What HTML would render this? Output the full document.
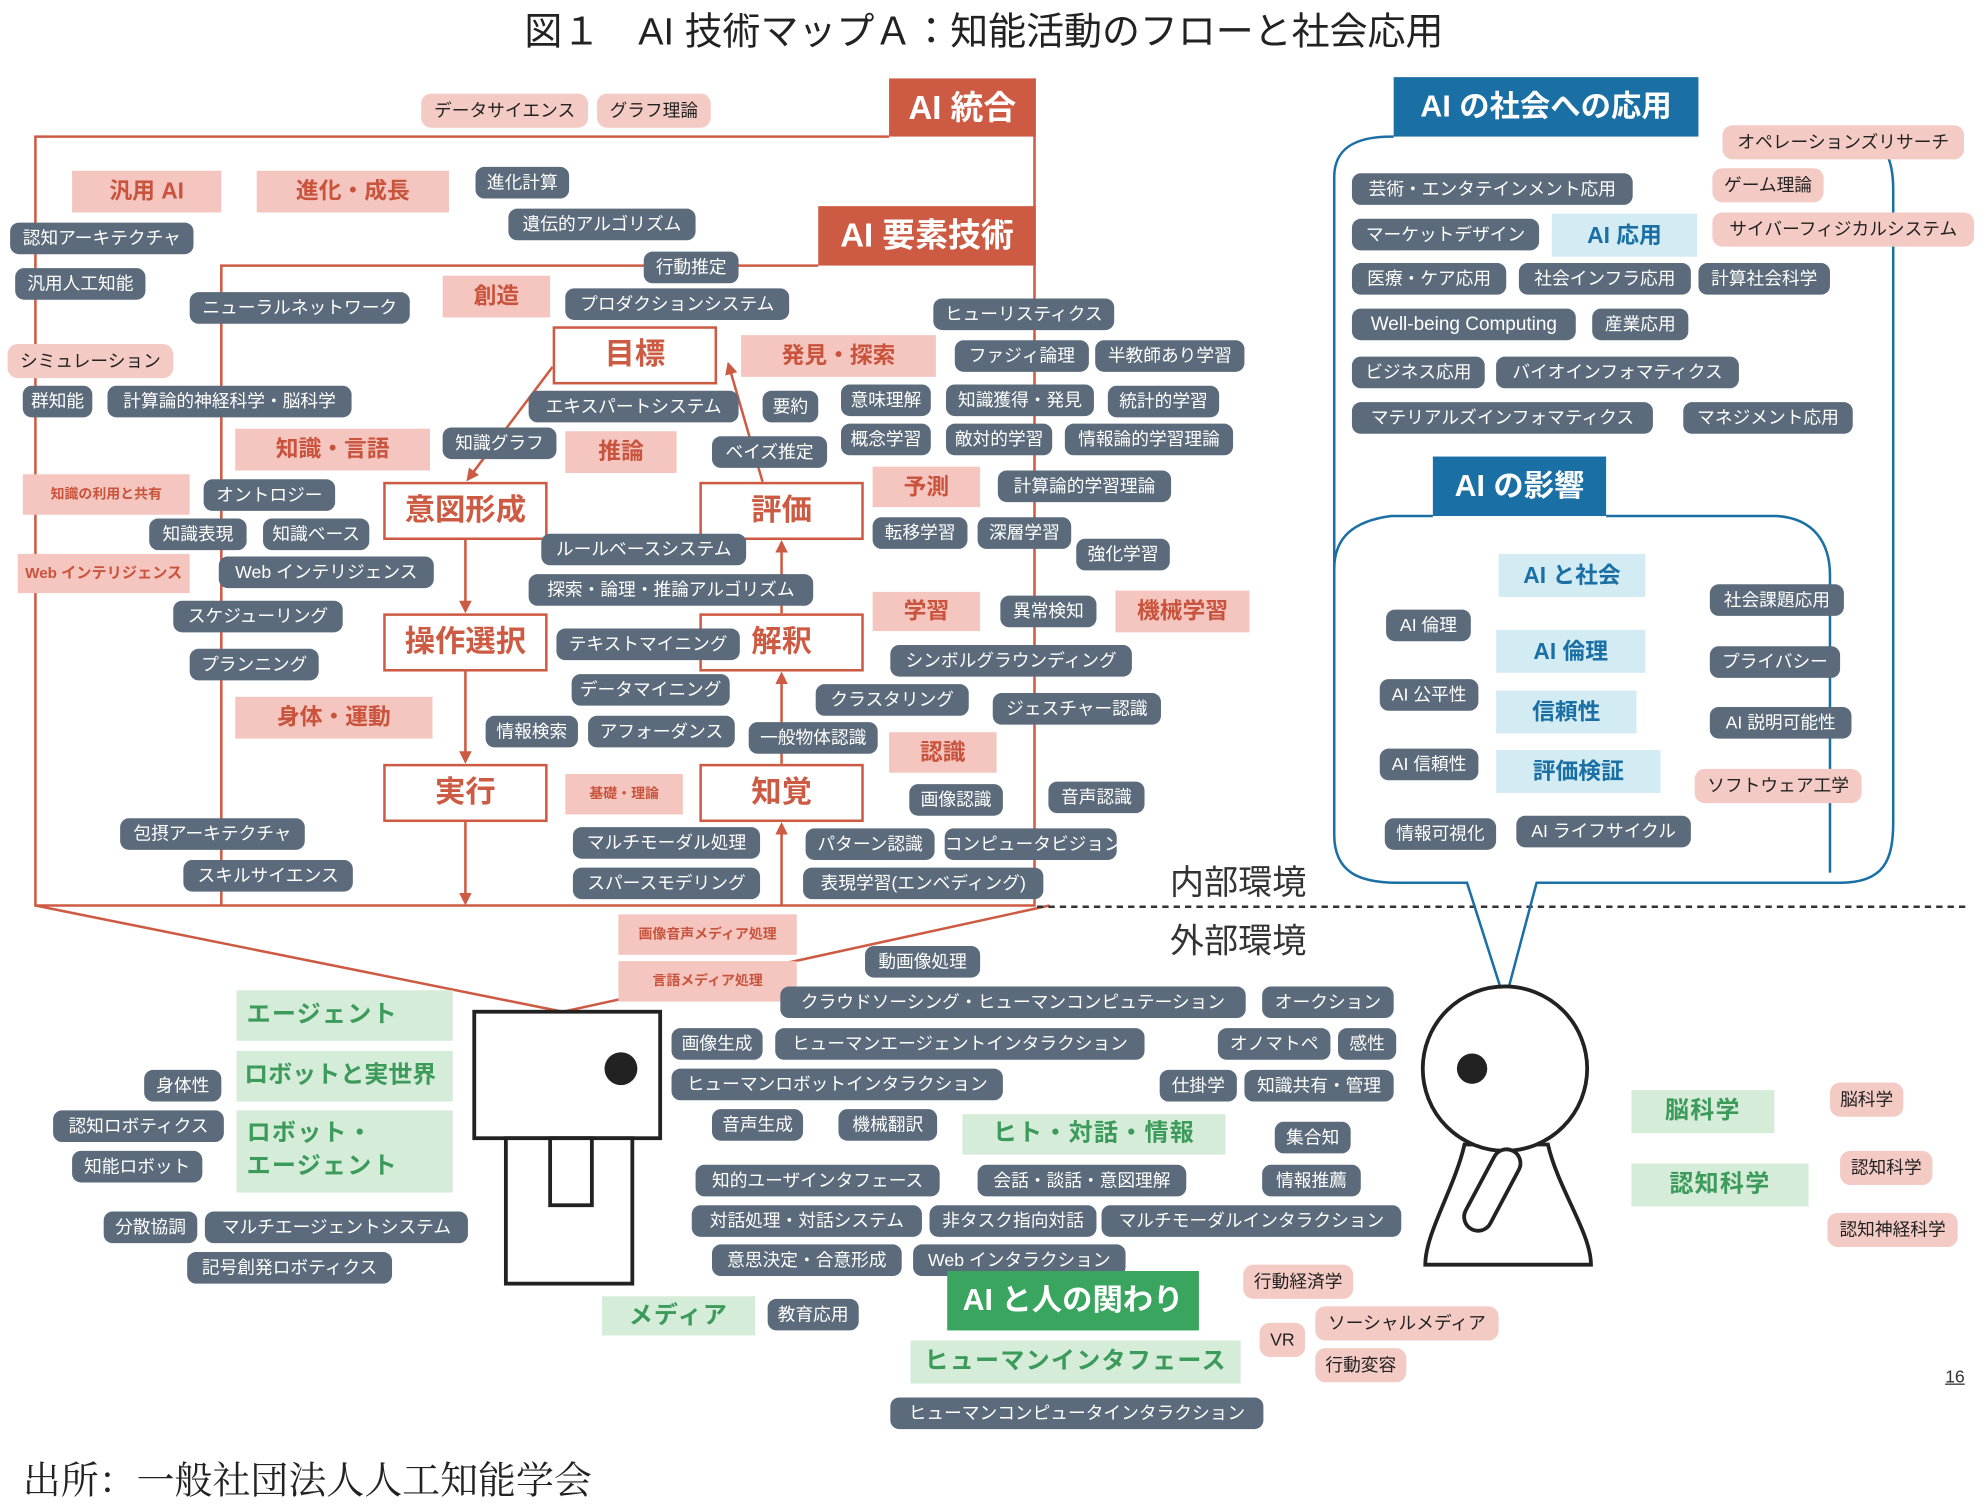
<!DOCTYPE html>
<html><head><meta charset="utf-8">
<style>
html,body{margin:0;padding:0;background:#fff;}
body{width:1983px;height:1510px;overflow:hidden;}
#w{position:absolute;left:0;top:0;width:1568px;height:1194px;transform:scale(1.26467);transform-origin:0 0;font-family:"Liberation Sans","Noto Sans CJK JP",sans-serif;}
#w div{position:absolute;white-space:nowrap;box-sizing:border-box;}
.g{background:#5b6b7b;color:#fff;font-size:14px;height:25px;line-height:25px;border-radius:7px;text-align:center;}
.p{background:#f4cbc4;color:#222;font-size:14px;height:27px;line-height:27px;border-radius:8px;text-align:center;}
.ph{background:#f4c6bf;color:#c9533c;font-weight:bold;font-size:18px;text-align:center;}
.sm{background:#f4c6bf;color:#c9533c;font-weight:bold;font-size:11px;text-align:center;}
.r{background:#cd5b43;color:#fff;font-weight:bold;font-size:26px;text-align:center;}
.rb{border:2px solid #cd5b43;color:#cd5b43;font-weight:bold;font-size:24px;text-align:center;background:#fff;}
.bh{background:#1a6fa5;color:#fff;font-weight:bold;font-size:24px;text-align:center;}
.lb{background:#d3ebf3;color:#1a6fa5;font-weight:bold;font-size:18px;text-align:center;}
.gl{background:#d5ecd9;color:#3c9a5b;font-weight:bold;font-size:19px;text-align:center;letter-spacing:1px;}
</style></head><body><div id="w">
<svg width="1568" height="1194" style="position:absolute;left:0;top:0">
<defs><marker id="a" markerWidth="10" markerHeight="10" refX="8" refY="5" orient="auto" markerUnits="userSpaceOnUse"><path d="M0,0 L10,5 L0,10 z" fill="#cd5b43"/></marker></defs>
<g stroke="#cd5b43" stroke-width="2" fill="none">
<polyline points="703,108 28,108 28,716 818,716 818,62"/>
<polyline points="647,210 175,210 175,716"/>
<line x1="28" y1="716" x2="445" y2="800"/>
<line x1="830" y1="716" x2="445" y2="800"/>
<line x1="437" y1="290" x2="370" y2="379" marker-end="url(#a)"/>
<line x1="368" y1="427" x2="368" y2="483" marker-end="url(#a)"/>
<line x1="368" y1="531" x2="368" y2="602" marker-end="url(#a)"/>
<line x1="368" y1="650" x2="368" y2="714" marker-end="url(#a)"/>
<line x1="618" y1="716" x2="618" y2="652" marker-end="url(#a)"/>
<line x1="618" y1="604" x2="618" y2="533" marker-end="url(#a)"/>
<line x1="618" y1="485" x2="618" y2="429" marker-end="url(#a)"/>
<line x1="603" y1="381" x2="576" y2="288" marker-end="url(#a)"/>
</g>
<line x1="820" y1="717" x2="1556" y2="717" stroke="#333" stroke-width="2" stroke-dasharray="5,4"/>
<g stroke="#1a6fa5" stroke-width="2" fill="none">
<path d="M1102,108 L1100,108 C1075,108 1055,115 1055,140 L1055,660 C1055,690 1075,698 1105,698 L1160,698 L1190,792 L1215,698 L1455,698 C1490,698 1497,680 1497,650 L1497,150 C1497,125 1490,110 1470,108"/>
<path d="M1133,408 L1100,408 C1070,412 1055,425 1055,450"/>
<path d="M1270,408 L1405,408 C1435,410 1447,430 1447,455 L1447,690"/>
</g>
<g stroke="#222" stroke-width="3" fill="#fff">
<rect x="375" y="800" width="147" height="100"/>
<rect x="400" y="900" width="100" height="115"/>
<rect x="435" y="900" width="33" height="53"/>
<path d="M1158,905 C1150,940 1127,975 1127,1000 L1258,1000 C1258,975 1232,940 1224,905 Z"/>
<circle cx="1190" cy="845" r="65"/>
<rect x="1145" y="930" width="70" height="22" rx="11" transform="rotate(-62 1180 941)"/>
</g>
<circle cx="491" cy="845" r="13" fill="#222"/>
<circle cx="1164" cy="845" r="12" fill="#222"/>
</svg>

<div style="left:0;width:1556px;top:0px;text-align:center;font-size:30px;color:#222;">図１　AI 技術マップＡ：知能活動のフローと社会応用</div>

<div class="r" style="left:703px;top:62px;width:116px;height:46px;line-height:46px;">AI 統合</div>
<div class="r" style="left:647px;top:163px;width:172px;height:47px;line-height:47px;">AI 要素技術</div>

<div class="rb" style="left:437px;top:258px;width:130px;height:46px;line-height:42px;">目標</div>
<div class="rb" style="left:303px;top:381px;width:130px;height:46px;line-height:42px;">意図形成</div>
<div class="rb" style="left:553px;top:381px;width:130px;height:46px;line-height:42px;">評価</div>
<div class="rb" style="left:303px;top:485px;width:130px;height:46px;line-height:42px;">操作選択</div>
<div class="rb" style="left:553px;top:485px;width:130px;height:46px;line-height:42px;">解釈</div>
<div class="rb" style="left:303px;top:604px;width:130px;height:46px;line-height:42px;">実行</div>
<div class="rb" style="left:553px;top:604px;width:130px;height:46px;line-height:42px;">知覚</div>

<div class="ph" style="left:57px;top:135px;width:118px;height:33px;line-height:33px;">汎用 AI</div>
<div class="ph" style="left:203px;top:135px;width:152px;height:33px;line-height:33px;">進化・成長</div>
<div class="ph" style="left:350px;top:218px;width:85px;height:33px;line-height:33px;">創造</div>
<div class="ph" style="left:586px;top:265px;width:154px;height:33px;line-height:33px;">発見・探索</div>
<div class="ph" style="left:186px;top:339px;width:154px;height:33px;line-height:33px;">知識・言語</div>
<div class="ph" style="left:447px;top:341px;width:88px;height:33px;line-height:33px;">推論</div>
<div class="ph" style="left:690px;top:369px;width:85px;height:32px;line-height:32px;">予測</div>
<div class="ph" style="left:690px;top:468px;width:85px;height:31px;line-height:31px;">学習</div>
<div class="ph" style="left:882px;top:467px;width:106px;height:33px;line-height:33px;">機械学習</div>
<div class="ph" style="left:186px;top:551px;width:156px;height:33px;line-height:33px;">身体・運動</div>
<div class="ph" style="left:703px;top:579px;width:85px;height:32px;line-height:32px;">認識</div>
<div class="sm" style="left:447px;top:612px;width:93px;height:32px;line-height:32px;">基礎・理論</div>
<div class="sm" style="left:18px;top:375px;width:132px;height:32px;line-height:32px;">知識の利用と共有</div>
<div class="sm" style="left:14px;top:438px;width:136px;height:31px;line-height:31px;font-size:12px;">Web インテリジェンス</div>
<div class="sm" style="left:489px;top:723px;width:141px;height:32px;line-height:32px;">画像音声メディア処理</div>
<div class="sm" style="left:489px;top:760px;width:141px;height:32px;line-height:32px;">言語メディア処理</div>

<div class="p" style="left:333px;top:74px;width:132px;">データサイエンス</div>
<div class="p" style="left:472px;top:74px;width:90px;">グラフ理論</div>
<div class="p" style="left:6px;top:272px;width:131px;">シミュレーション</div>
<div class="p" style="left:1362px;top:99px;width:191px;">オペレーションズリサーチ</div>
<div class="p" style="left:1354px;top:133px;width:88px;">ゲーム理論</div>
<div class="p" style="left:1354px;top:168px;width:207px;">サイバーフィジカルシステム</div>
<div class="p" style="left:1340px;top:608px;width:132px;">ソフトウェア工学</div>
<div class="p" style="left:1447px;top:856px;width:58px;">脳科学</div>
<div class="p" style="left:1455px;top:910px;width:73px;">認知科学</div>
<div class="p" style="left:1445px;top:959px;width:103px;">認知神経科学</div>
<div class="p" style="left:983px;top:1000px;width:87px;">行動経済学</div>
<div class="p" style="left:1040px;top:1033px;width:145px;">ソーシャルメディア</div>
<div class="p" style="left:1040px;top:1066px;width:72px;">行動変容</div>
<div class="p" style="left:996px;top:1046px;width:36px;">VR</div>

<div class="g" style="left:376px;top:132px;width:74px;">進化計算</div>
<div class="g" style="left:402px;top:165px;width:148px;">遺伝的アルゴリズム</div>
<div class="g" style="left:509px;top:199px;width:75px;">行動推定</div>
<div class="g" style="left:8px;top:176px;width:145px;">認知アーキテクチャ</div>
<div class="g" style="left:12px;top:212px;width:103px;">汎用人工知能</div>
<div class="g" style="left:150px;top:231px;width:174px;">ニューラルネットワーク</div>
<div class="g" style="left:447px;top:228px;width:177px;">プロダクションシステム</div>
<div class="g" style="left:738px;top:236px;width:143px;">ヒューリスティクス</div>
<div class="g" style="left:755px;top:269px;width:106px;">ファジィ論理</div>
<div class="g" style="left:866px;top:269px;width:118px;">半教師あり学習</div>
<div class="g" style="left:18px;top:305px;width:55px;">群知能</div>
<div class="g" style="left:85px;top:305px;width:193px;">計算論的神経科学・脳科学</div>
<div class="g" style="left:418px;top:309px;width:166px;">エキスパートシステム</div>
<div class="g" style="left:603px;top:309px;width:44px;">要約</div>
<div class="g" style="left:665px;top:304px;width:71px;">意味理解</div>
<div class="g" style="left:748px;top:304px;width:117px;">知識獲得・発見</div>
<div class="g" style="left:876px;top:305px;width:88px;">統計的学習</div>
<div class="g" style="left:350px;top:338px;width:90px;">知識グラフ</div>
<div class="g" style="left:563px;top:345px;width:91px;">ベイズ推定</div>
<div class="g" style="left:665px;top:335px;width:71px;">概念学習</div>
<div class="g" style="left:748px;top:335px;width:84px;">敵対的学習</div>
<div class="g" style="left:842px;top:335px;width:133px;">情報論的学習理論</div>
<div class="g" style="left:161px;top:379px;width:104px;">オントロジー</div>
<div class="g" style="left:789px;top:372px;width:137px;">計算論的学習理論</div>
<div class="g" style="left:118px;top:410px;width:77px;">知識表現</div>
<div class="g" style="left:208px;top:410px;width:84px;">知識ベース</div>
<div class="g" style="left:690px;top:409px;width:75px;">転移学習</div>
<div class="g" style="left:773px;top:409px;width:74px;">深層学習</div>
<div class="g" style="left:851px;top:426px;width:74px;">強化学習</div>
<div class="g" style="left:428px;top:422px;width:162px;">ルールベースシステム</div>
<div class="g" style="left:173px;top:440px;width:170px;">Web インテリジェンス</div>
<div class="g" style="left:418px;top:454px;width:225px;">探索・論理・推論アルゴリズム</div>
<div class="g" style="left:137px;top:475px;width:134px;">スケジューリング</div>
<div class="g" style="left:791px;top:471px;width:76px;">異常検知</div>
<div class="g" style="left:440px;top:497px;width:145px;">テキストマイニング</div>
<div class="g" style="left:704px;top:510px;width:191px;">シンボルグラウンディング</div>
<div class="g" style="left:150px;top:513px;width:102px;">プランニング</div>
<div class="g" style="left:452px;top:533px;width:125px;">データマイニング</div>
<div class="g" style="left:645px;top:541px;width:121px;">クラスタリング</div>
<div class="g" style="left:785px;top:548px;width:133px;">ジェスチャー認識</div>
<div class="g" style="left:384px;top:566px;width:73px;">情報検索</div>
<div class="g" style="left:465px;top:566px;width:116px;">アフォーダンス</div>
<div class="g" style="left:592px;top:571px;width:102px;">一般物体認識</div>
<div class="g" style="left:719px;top:620px;width:74px;">画像認識</div>
<div class="g" style="left:829px;top:618px;width:76px;">音声認識</div>
<div class="g" style="left:95px;top:647px;width:146px;">包摂アーキテクチャ</div>
<div class="g" style="left:453px;top:654px;width:148px;">マルチモーダル処理</div>
<div class="g" style="left:637px;top:655px;width:102px;">パターン認識</div>
<div class="g" style="left:747px;top:655px;width:136px;">コンピュータビジョン</div>
<div class="g" style="left:145px;top:680px;width:134px;">スキルサイエンス</div>
<div class="g" style="left:453px;top:686px;width:148px;">スパースモデリング</div>
<div class="g" style="left:635px;top:686px;width:190px;">表現学習(エンベディング)</div>
<div class="g" style="left:684px;top:748px;width:91px;">動画像処理</div>
<div class="g" style="left:617px;top:780px;width:368px;">クラウドソーシング・ヒューマンコンピュテーション</div>
<div class="g" style="left:998px;top:780px;width:104px;">オークション</div>
<div class="g" style="left:531px;top:813px;width:72px;">画像生成</div>
<div class="g" style="left:613px;top:813px;width:292px;">ヒューマンエージェントインタラクション</div>
<div class="g" style="left:963px;top:813px;width:89px;">オノマトペ</div>
<div class="g" style="left:1058px;top:813px;width:46px;">感性</div>
<div class="g" style="left:531px;top:845px;width:262px;">ヒューマンロボットインタラクション</div>
<div class="g" style="left:917px;top:846px;width:61px;">仕掛学</div>
<div class="g" style="left:984px;top:846px;width:118px;">知識共有・管理</div>
<div class="g" style="left:114px;top:846px;width:61px;">身体性</div>
<div class="g" style="left:42px;top:878px;width:135px;">認知ロボティクス</div>
<div class="g" style="left:57px;top:910px;width:103px;">知能ロボット</div>
<div class="g" style="left:563px;top:877px;width:72px;">音声生成</div>
<div class="g" style="left:663px;top:877px;width:78px;">機械翻訳</div>
<div class="g" style="left:1008px;top:887px;width:60px;">集合知</div>
<div class="g" style="left:550px;top:921px;width:193px;">知的ユーザインタフェース</div>
<div class="g" style="left:773px;top:921px;width:165px;">会話・談話・意図理解</div>
<div class="g" style="left:998px;top:921px;width:78px;">情報推薦</div>
<div class="g" style="left:82px;top:958px;width:74px;">分散協調</div>
<div class="g" style="left:162px;top:958px;width:208px;">マルチエージェントシステム</div>
<div class="g" style="left:547px;top:953px;width:182px;">対話処理・対話システム</div>
<div class="g" style="left:735px;top:953px;width:132px;">非タスク指向対話</div>
<div class="g" style="left:871px;top:953px;width:237px;">マルチモーダルインタラクション</div>
<div class="g" style="left:148px;top:990px;width:162px;">記号創発ロボティクス</div>
<div class="g" style="left:563px;top:984px;width:150px;">意思決定・合意形成</div>
<div class="g" style="left:722px;top:984px;width:168px;">Web インタラクション</div>
<div class="g" style="left:607px;top:1027px;width:72px;">教育応用</div>
<div class="g" style="left:704px;top:1105px;width:295px;">ヒューマンコンピュータインタラクション</div>

<div class="bh" style="left:1102px;top:61px;width:241px;height:47px;line-height:47px;">AI の社会への応用</div>
<div class="bh" style="left:1133px;top:361px;width:137px;height:47px;line-height:47px;">AI の影響</div>

<div class="g" style="left:1069px;top:137px;width:222px;">芸術・エンタテインメント応用</div>
<div class="g" style="left:1069px;top:173px;width:148px;">マーケットデザイン</div>
<div class="g" style="left:1069px;top:208px;width:122px;">医療・ケア応用</div>
<div class="g" style="left:1201px;top:208px;width:136px;">社会インフラ応用</div>
<div class="g" style="left:1343px;top:208px;width:104px;">計算社会科学</div>
<div class="g" style="left:1069px;top:244px;width:177px;font-size:15px;">Well-being Computing</div>
<div class="g" style="left:1259px;top:244px;width:76px;">産業応用</div>
<div class="g" style="left:1069px;top:282px;width:105px;">ビジネス応用</div>
<div class="g" style="left:1183px;top:282px;width:192px;">バイオインフォマティクス</div>
<div class="g" style="left:1069px;top:318px;width:238px;">マテリアルズインフォマティクス</div>
<div class="g" style="left:1331px;top:318px;width:134px;">マネジメント応用</div>
<div class="g" style="left:1096px;top:482px;width:67px;">AI 倫理</div>
<div class="g" style="left:1352px;top:462px;width:106px;">社会課題応用</div>
<div class="g" style="left:1352px;top:511px;width:103px;">プライバシー</div>
<div class="g" style="left:1091px;top:537px;width:78px;">AI 公平性</div>
<div class="g" style="left:1352px;top:559px;width:112px;">AI 説明可能性</div>
<div class="g" style="left:1091px;top:592px;width:78px;">AI 信頼性</div>
<div class="g" style="left:1095px;top:647px;width:88px;">情報可視化</div>
<div class="g" style="left:1199px;top:645px;width:138px;">AI ライフサイクル</div>

<div class="lb" style="left:1227px;top:169px;width:115px;height:34px;line-height:34px;">AI 応用</div>
<div class="lb" style="left:1185px;top:438px;width:116px;height:34px;line-height:34px;">AI と社会</div>
<div class="lb" style="left:1183px;top:498px;width:118px;height:34px;line-height:34px;">AI 倫理</div>
<div class="lb" style="left:1183px;top:546px;width:111px;height:34px;line-height:34px;">信頼性</div>
<div class="lb" style="left:1183px;top:593px;width:130px;height:34px;line-height:34px;">評価検証</div>

<div style="left:925px;top:676px;font-size:27px;color:#333;">内部環境</div>
<div style="left:925px;top:722px;font-size:27px;color:#333;">外部環境</div>

<div class="gl" style="left:187px;top:783px;width:171px;height:40px;line-height:40px;text-align:left;padding-left:8px;">エージェント</div>
<div class="gl" style="left:187px;top:831px;width:171px;height:40px;line-height:40px;text-align:left;padding-left:6px;letter-spacing:0;">ロボットと実世界</div>
<div class="gl" style="left:187px;top:878px;width:171px;height:65px;line-height:26px;text-align:left;padding:6px 0 0 8px;white-space:normal;">ロボット・<br>エージェント</div>
<div class="gl" style="left:761px;top:881px;width:208px;height:32px;line-height:32px;">ヒト・対話・情報</div>
<div class="gl" style="left:476px;top:1025px;width:121px;height:31px;line-height:31px;">メディア</div>
<div class="gl" style="left:720px;top:1060px;width:261px;height:34px;line-height:34px;">ヒューマンインタフェース</div>
<div style="left:749px;top:1005px;width:199px;height:47px;line-height:47px;background:#3aa55e;color:#fff;font-weight:bold;font-size:24px;text-align:center;">AI と人の関わり</div>

<div class="gl" style="left:1290px;top:862px;width:113px;height:34px;line-height:34px;">脳科学</div>
<div class="gl" style="left:1290px;top:920px;width:140px;height:34px;line-height:34px;">認知科学</div>

<div style="left:1538px;top:1080px;font-size:14px;color:#333;text-decoration:underline;">16</div>
<div style="left:18px;top:1146px;font-size:30px;color:#222;font-family:'Liberation Serif','Noto Serif CJK SC',serif;">出所：一般社団法人人工知能学会</div>
</div></body></html>
